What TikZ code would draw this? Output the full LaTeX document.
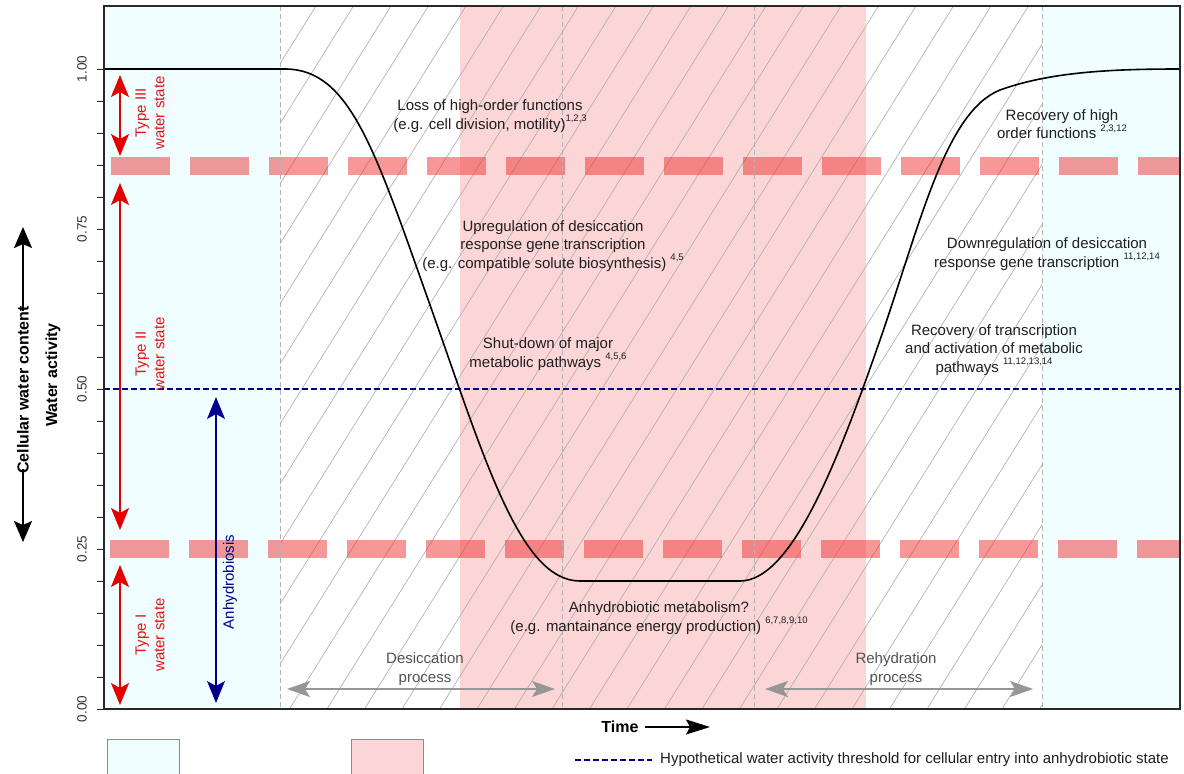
\documentclass[tikz,border=0pt]{standalone}
\usepackage{fontspec}
\setmainfont{Liberation Sans}
\usetikzlibrary{arrows.meta}
\definecolor{cyanbg}{RGB}{240,254,255}
\definecolor{pinkbg}{RGB}{252,214,214}
\definecolor{barred}{RGB}{238,50,50}
\definecolor{navyb}{RGB}{0,0,140}
\definecolor{redt}{RGB}{228,20,20}
\definecolor{hatchg}{RGB}{170,170,170}
\definecolor{procg}{RGB}{150,150,150}
\definecolor{framec}{RGB}{40,40,40}
\newcommand{\refs}[1]{\raisebox{0.5em}{\fontsize{9.5}{9.5}\selectfont #1}}
\newcommand{\fs}{\fontsize{15}{18.5}\selectfont}
\begin{document}
\begin{tikzpicture}[x=1pt,y=-1pt,
  every node/.style={font=\fs, inner sep=0pt},
  txt/.style={align=center, text=black!88},
  proc/.style={align=center, text=black!68},
  redlbl/.style={align=center, text=redt, rotate=90},
  vdash/.style={draw=black!30, line width=0.8pt, dash pattern=on 5pt off 3pt},
  hatchline/.style={draw=hatchg, line width=0.6pt},
  bar/.style={draw=barred, line width=18pt, opacity=0.5, dash pattern=on 59pt off 20pt},
  redarrow/.style={draw=red!90!black, line width=1.4pt, {Stealth[length=22pt,width=18pt,inset=5pt]}-{Stealth[length=22pt,width=18pt,inset=5pt]}},
  bluearrow/.style={draw=navyb, line width=1.4pt, {Stealth[length=22pt,width=18pt,inset=5pt]}-{Stealth[length=22pt,width=18pt,inset=5pt]}},
  grayarrow/.style={draw=procg, line width=1.8pt, {Stealth[length=23pt,width=16pt,inset=5pt]}-{Stealth[length=23pt,width=16pt,inset=5pt]}},
  blkarrow/.style={draw=black, line width=1.8pt, -{Stealth[length=21pt,width=18pt,inset=4pt]}},
  tick/.style={draw=framec, line width=1pt},
  ticklbl/.style={rotate=90, text=black!80, font=\fontsize{13.5}{14}\selectfont},
  curve/.style={draw=black, line width=1.6pt},
  axtitle/.style={font=\bfseries\fontsize{16}{18}\selectfont},
  legbox/.style={draw=black!45, line width=0.8pt, minimum width=72pt, minimum height=50pt, anchor=north west}
]
\useasboundingbox (0,0) rectangle (1184,774);
\fill[white] (0,0) rectangle (1184,774);

% background regions
\fill[cyanbg] (104,6) rectangle (280,709);
\fill[cyanbg] (1042,6) rectangle (1180,709);
\fill[pinkbg] (460,6) rectangle (866,709);

% hatching
\begin{scope}
  \clip (280,6) rectangle (1042,709);
  \foreach \k in {-1,...,33} {
    \draw[hatchline] ({295+37.5*\k-418},709) -- ({295+37.5*\k+21},6);
  }
\end{scope}

% red dashed bars
\begin{scope}
  \clip (104,6) rectangle (1180,709);
  \coordinate (b1l) at (111,166);
  \coordinate (b1r) at (1182,166);
  \coordinate (b2l) at (110,549);
  \coordinate (b2r) at (1182,549);
  \draw[bar] (b1l) -- (b1r);
  \draw[bar] (b2l) -- (b2r);
\end{scope}

% vertical dashed lines
\foreach \xx/\nm in {280/va,562/vb,754/vc,1042/vd} {
  \coordinate (\nm t) at (\xx,6);
  \coordinate (\nm b) at (\xx,709);
  \draw[vdash] (\nm t) -- (\nm b);
}

% threshold line
\coordinate (thl) at (104,389);
\coordinate (thr) at (1180,389);
\draw[navyb, line width=1.2pt, dash pattern=on 6pt off 3pt] (thl) -- (thr);

% curve
\draw[curve] (104,69) -- (285,69)
  .. controls (350,69) and (375,150) .. (430,305)
  .. controls (485,460) and (520,581) .. (580,581)
  -- (740,581)
  .. controls (790,581) and (835,470) .. (880,340)
  .. controls (920,225) and (945,112) .. (1000,90)
  .. controls (1050,72) and (1110,69) .. (1180,69);

% frame
\draw[framec, line width=1.3pt] (104,6) rectangle (1180,709);

% ticks
\foreach \k in {0,...,20} {
  \coordinate (tk\k a) at (97,{709-32*\k});
  \coordinate (tk\k b) at (104,{709-32*\k});
  \draw[tick] (tk\k a) -- (tk\k b);
}
\node[ticklbl] (t0) at (82,709) {0.00};
\node[ticklbl] (t1) at (82,549) {0.25};
\node[ticklbl] (t2) at (82,389) {0.50};
\node[ticklbl] (t3) at (82,229) {0.75};
\node[ticklbl] (t4) at (82,69) {1.00};

% axis titles
\node[rotate=90, axtitle] (wa) at (53,375) {Water activity};
\node[rotate=90, axtitle] (cwc) at (23,390) {Cellular water content};
\coordinate (cwcup) at (23,227);
\coordinate (cwcdn) at (23,542);
\draw[blkarrow] ([yshift=-5pt]cwc.east) -- (cwcup);
\draw[blkarrow] ([yshift=5pt]cwc.west) -- (cwcdn);

% red water state arrows
\coordinate (r3a) at (120,75);
\coordinate (r3b) at (120,156);
\coordinate (r2a) at (120,183);
\coordinate (r2b) at (120,530);
\coordinate (r1a) at (120,565);
\coordinate (r1b) at (120,705);
\draw[redarrow] (r3a) -- (r3b);
\draw[redarrow] (r2a) -- (r2b);
\draw[redarrow] (r1a) -- (r1b);
\node[redlbl] (l3) at (150,113) {Type III\\water state};
\node[redlbl] (l2) at (150,354) {Type II\\water state};
\node[redlbl] (l1) at (150,635) {Type I\\water state};

% anhydrobiosis arrow
\coordinate (ba) at (216,397);
\coordinate (bb) at (216,703);
\draw[bluearrow] (ba) -- (bb);
\node[rotate=90, text=navyb] (anh) at (230,582) {Anhydrobiosis};

% process arrows
\coordinate (da) at (287,689);
\coordinate (db) at (555,689);
\coordinate (ra) at (765,689);
\coordinate (rb) at (1033,689);
\draw[grayarrow] (da) -- (db);
\draw[grayarrow] (ra) -- (rb);
\node[proc] (desl) at (425,669) {Desiccation\\process};
\node[proc] (rehl) at (896,669) {Rehydration\\process};

% annotations
\node[txt] (loss) at (490,116) {Loss of high-order functions\\(e.g. cell division, motility)\refs{1,2,3}};
\node[txt] (upreg) at (553,246) {Upregulation of desiccation\\response gene transcription\\(e.g. compatible solute biosynthesis) \refs{4,5}};
\node[txt] (shut) at (548,354) {Shut-down of major\\metabolic pathways \refs{4,5,6}};
\node[txt] (anhm) at (659,618) {Anhydrobiotic metabolism?\\(e.g. mantainance energy production) \refs{6,7,8,9,10}};
\node[txt] (rech) at (1062,124) {Recovery of high\\order functions \refs{2,3,12}};
\node[txt] (down) at (1047,254) {Downregulation of desiccation\\response gene transcription \refs{11,12,14}};
\node[txt] (rect) at (994,350) {Recovery of transcription\\and activation of metabolic\\pathways \refs{11,12,13,14}};

% time axis
\node[axtitle] (time) at (620,727) {Time};
\coordinate (timeend) at (710,727);
\draw[draw=black, line width=1.5pt, -{Stealth[length=24pt,width=15pt,inset=4pt]}] ([xshift=6pt]time.east) -- (timeend);

% legend
\node[legbox, fill=cyanbg] (lg1) at (107,739) {};
\node[legbox, fill=pinkbg] (lg2) at (351,739) {};
\coordinate (lgda) at (575,760);
\coordinate (lgdb) at (652,760);
\draw[navyb, line width=1.2pt, dash pattern=on 6pt off 3pt] (lgda) -- (lgdb);
\node[anchor=west, text=black!88, font=\fontsize{15}{18}\selectfont] (lgt) at (660,760) {Hypothetical water activity threshold for cellular entry into anhydrobiotic state};
\end{tikzpicture}
\end{document}
